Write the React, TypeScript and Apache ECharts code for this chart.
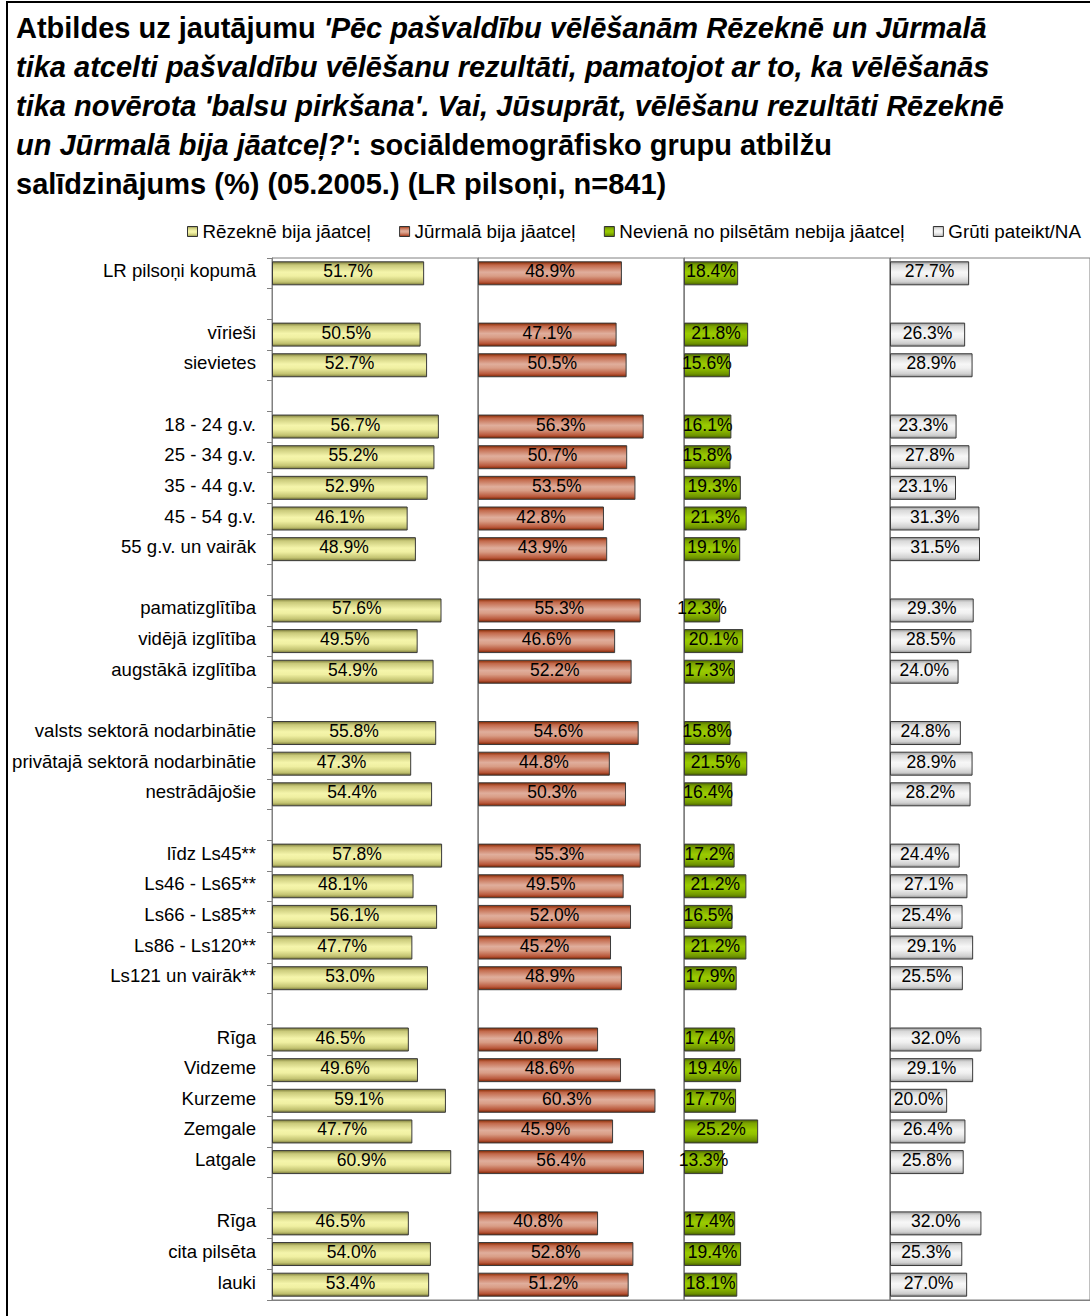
import React, { useEffect, useRef } from "react";
import * as echarts from "echarts";

const categories: string[] = [
  "LR pilsoņi kopumā", "",
  "vīrieši", "sievietes", "",
  "18 - 24 g.v.", "25 - 34 g.v.", "35 - 44 g.v.", "45 - 54 g.v.", "55 g.v. un vairāk", "",
  "pamatizglītība", "vidējā izglītība", "augstākā izglītība", "",
  "valsts sektorā nodarbinātie", "privātajā sektorā nodarbinātie", "nestrādājošie", "",
  "līdz Ls45**", "Ls46 - Ls65**", "Ls66 - Ls85**", "Ls86 - Ls120**", "Ls121 un vairāk**", "",
  "Rīga", "Vidzeme", "Kurzeme", "Zemgale", "Latgale", "",
  "Rīga", "cita pilsēta", "lauki",
];

const seriesNames: string[] = [
  "Rēzeknē bija jāatceļ",
  "Jūrmalā bija jāatceļ",
  "Nevienā no pilsētām nebija jāatceļ",
  "Grūti pateikt/NA",
];

const rezekne: (number | null)[] = [
  51.7, null,
  50.5, 52.7, null,
  56.7, 55.2, 52.9, 46.1, 48.9, null,
  57.6, 49.5, 54.9, null,
  55.8, 47.3, 54.4, null,
  57.8, 48.1, 56.1, 47.7, 53.0, null,
  46.5, 49.6, 59.1, 47.7, 60.9, null,
  46.5, 54.0, 53.4,
];

const jurmala: (number | null)[] = [
  48.9, null,
  47.1, 50.5, null,
  56.3, 50.7, 53.5, 42.8, 43.9, null,
  55.3, 46.6, 52.2, null,
  54.6, 44.8, 50.3, null,
  55.3, 49.5, 52.0, 45.2, 48.9, null,
  40.8, 48.6, 60.3, 45.9, 56.4, null,
  40.8, 52.8, 51.2,
];

const neviena: (number | null)[] = [
  18.4, null,
  21.8, 15.6, null,
  16.1, 15.8, 19.3, 21.3, 19.1, null,
  12.3, 20.1, 17.3, null,
  15.8, 21.5, 16.4, null,
  17.2, 21.2, 16.5, 21.2, 17.9, null,
  17.4, 19.4, 17.7, 25.2, 13.3, null,
  17.4, 19.4, 18.1,
];

const gruti: (number | null)[] = [
  27.7, null,
  26.3, 28.9, null,
  23.3, 27.8, 23.1, 31.3, 31.5, null,
  29.3, 28.5, 24.0, null,
  24.8, 28.9, 28.2, null,
  24.4, 27.1, 25.4, 29.1, 25.5, null,
  32.0, 29.1, 20.0, 26.4, 25.8, null,
  32.0, 25.3, 27.0,
];

const panelMax = 70;

const FONT = "'Liberation Sans', Arial, sans-serif";

function grad(stops: [number, string][]) {
  return new echarts.graphic.LinearGradient(
    0, 0, 0, 1,
    stops.map(([offset, color]) => ({ offset, color }))
  );
}

const fills = [
  grad([[0, "#7c7c3a"], [0.14, "#c9c97a"], [0.45, "#f5f5ab"], [0.62, "#f0f0a2"], [0.88, "#c2c270"], [1, "#77773a"]]),
  grad([[0, "#862800"], [0.14, "#c2684a"], [0.45, "#e0ae9c"], [0.62, "#d99d86"], [0.88, "#b9573a"], [1, "#7a2200"]]),
  grad([[0, "#4c6600"], [0.14, "#7ba300"], [0.45, "#9acb00"], [0.62, "#92c200"], [0.88, "#6f9400"], [1, "#435a00"]]),
  grad([[0, "#9a9a9a"], [0.14, "#d8d8d8"], [0.45, "#f7f7f7"], [0.62, "#f0f0f0"], [0.88, "#cfcfcf"], [1, "#8e8e8e"]]),
];

const seriesData = [rezekne, jurmala, neviena, gruti];

const gridLefts = [272, 478, 684, 890];
const gridWidth = 206;
const gridTop = 258;
const gridHeight = 1042;

export default function App() {
  const ref = useRef<HTMLDivElement>(null);

  useEffect(() => {
    if (!ref.current) return;
    const chart = echarts.init(ref.current, undefined, { renderer: "svg" });

    const titleText = [
      "{a|Atbildes uz jautājumu }{b|'Pēc pašvaldību vēlēšanām Rēzeknē un Jūrmalā}",
      "{b|tika atcelti pašvaldību vēlēšanu rezultāti, pamatojot ar to, ka vēlēšanās}",
      "{b|tika novērota 'balsu pirkšana'. Vai, Jūsuprāt, vēlēšanu rezultāti Rēzeknē}",
      "{b|un Jūrmalā bija jāatceļ?'}{a|: sociāldemogrāfisko grupu atbilžu}",
      "{a|salīdzinājums (%) (05.2005.) (LR pilsoņi, n=841)}",
    ].join("\n");

    const option: any = {
      animation: false,
      backgroundColor: "#ffffff",
      title: {
        left: 11,
        top: 3,
        text: titleText,
        textStyle: {
          rich: {
            a: { fontFamily: FONT, fontWeight: "bold", fontSize: 29, color: "#000", lineHeight: 39.2 },
            b: { fontFamily: FONT, fontWeight: "bold", fontStyle: "italic", fontSize: 29, color: "#000", lineHeight: 39.2 },
          },
        },
      },
      legend: {
        left: 187,
        top: 222,
        padding: 0,
        itemWidth: 10,
        itemHeight: 10,
        itemGap: 28.5,
        icon: "rect",
        data: seriesNames,
        textStyle: { fontFamily: FONT, fontSize: 18.8, color: "#000", padding: [0, 0, 0, 0] },
        itemStyle: { borderColor: "#333", borderWidth: 1 },
      },
      graphic: [
        {
          type: "rect",
          shape: { x: 7, y: 2, width: 1200, height: 1400 },
          style: { fill: "none", stroke: "#000", lineWidth: 2 },
          silent: true,
        },
      ],
      grid: gridLefts.map((left) => ({
        left,
        top: gridTop,
        width: gridWidth,
        height: gridHeight,
        show: true,
        borderColor: "#808080",
        borderWidth: 1,
        backgroundColor: "transparent",
      })),
      xAxis: gridLefts.map((_, i) => ({
        type: "value",
        gridIndex: i,
        min: 0,
        max: panelMax,
        axisLabel: { show: false },
        axisTick: { show: false },
        splitLine: { show: false },
        axisLine: { show: true, lineStyle: { color: "#808080", width: 1 } },
      })),
      yAxis: gridLefts.map((_, i) => ({
        type: "category",
        gridIndex: i,
        inverse: true,
        data: categories,
        axisLine: { show: true, lineStyle: { color: "#808080", width: 1 } },
        axisTick: {
          show: i === 0,
          length: 5,
          inside: false,
          lineStyle: { color: "#808080" },
        },
        axisLabel: {
          show: i === 0,
          margin: 16,
          interval: 0,
          formatter: (v: string) => (v ? "{l|" + v + "}" : ""),
          rich: {
            l: {
              fontFamily: FONT,
              fontSize: 18.6,
              color: "#000",
              padding: [0, 0, 5, 0],
            },
          },
        },
      })),
      series: seriesData.map((data, i) => ({
        name: seriesNames[i],
        type: "bar",
        xAxisIndex: i,
        yAxisIndex: i,
        data,
        barWidth: 24,
        itemStyle: { color: fills[i], borderColor: "#3a3a3a", borderWidth: 1 },
        label: {
          show: true,
          position: "inside",
          color: "#000",
          fontFamily: FONT,
          fontSize: 17.5,
          offset: [0, -2],
          formatter: (p: any) => (p.value == null ? "" : Number(p.value).toFixed(1) + "%"),
        },
      })),
    };

    chart.setOption(option);
    return () => chart.dispose();
  }, []);

  return (
    <div
      ref={ref}
      style={{ position: "absolute", left: 0, top: 0, width: 1090, height: 1316 }}
    />
  );
}
